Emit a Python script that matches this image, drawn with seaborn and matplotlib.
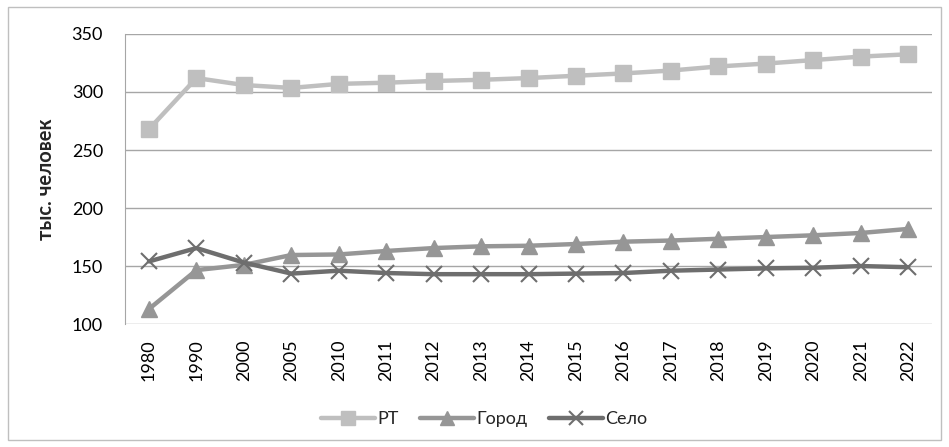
import seaborn as sns
import matplotlib.pyplot as plt
import pandas as pd
from matplotlib.patches import Rectangle

years = ['1980', '1990', '2000', '2005', '2010', '2011', '2012', '2013', '2014',
         '2015', '2016', '2017', '2018', '2019', '2020', '2021', '2022']
rt = [268, 312, 306, 303.5, 307, 308, 309.5, 310.5, 312, 314, 316, 318.5, 322, 324.5, 327.5, 330.5, 332.5]
gorod = [113, 146.5, 151, 159.5, 160, 163, 165.5, 167, 167.5, 169, 171, 172, 173.5, 175, 176.5, 178.5, 182]
selo = [154, 165.5, 153, 143.5, 146, 144, 143, 143, 143, 143.5, 144, 146, 147, 148, 148.5, 150, 149]

series = [
    ('РТ', rt, '#BFBFBF', 's', 11, 1),
    ('Город', gorod, '#969696', '^', 11, 1),
    ('Село', selo, '#6E6E6E', 'x', 11, 1.5),
]

sns.set_style('white')
plt.rcParams['font.family'] = ['Lato', 'DejaVu Sans']

fig, ax = plt.subplots(figsize=(9.49, 4.47), dpi=100)
fig.subplots_adjust(left=0.132, right=0.982, top=0.924, bottom=0.275)

for name, vals, col, mk, ms, mew in series:
    df = pd.DataFrame({'year': years, 'value': vals})
    sns.lineplot(data=df, x='year', y='value', ax=ax, color=col, linewidth=3.2,
                 marker=mk, markersize=ms, markeredgecolor=col, markeredgewidth=mew,
                 markerfacecolor=col, label=name, sort=False)

ax.set_ylim(100, 350)
ax.set_yticks([100, 150, 200, 250, 300, 350])
ax.set_xlim(-0.5, len(years) - 0.5)
ax.yaxis.grid(True, color='#A6A6A6', linewidth=1)
ax.set_axisbelow(True)
for s in ['top', 'right', 'bottom']:
    ax.spines[s].set_visible(False)
ax.spines['left'].set_color('#A6A6A6')
ax.tick_params(axis='both', length=0, labelsize=13, colors='#000000')
ax.tick_params(axis='y', pad=16)
ax.tick_params(axis='x', pad=11)
plt.setp(ax.get_xticklabels(), rotation=90)
ax.set_xlabel('')
ax.set_ylabel('тыс. человек', fontsize=14.5, fontweight='bold', labelpad=11)

ax.legend(loc='upper center', bbox_to_anchor=(0.445, -0.245), ncol=3, frameon=False,
          fontsize=13, handlelength=3, columnspacing=1.2, handletextpad=0.1,
          markerscale=0.9)

fig.patches.append(Rectangle((0.008, 0.016), 0.984, 0.968, transform=fig.transFigure,
                             fill=False, edgecolor='#BFBFBF', linewidth=1))

plt.savefig('out.png', dpi=100)
